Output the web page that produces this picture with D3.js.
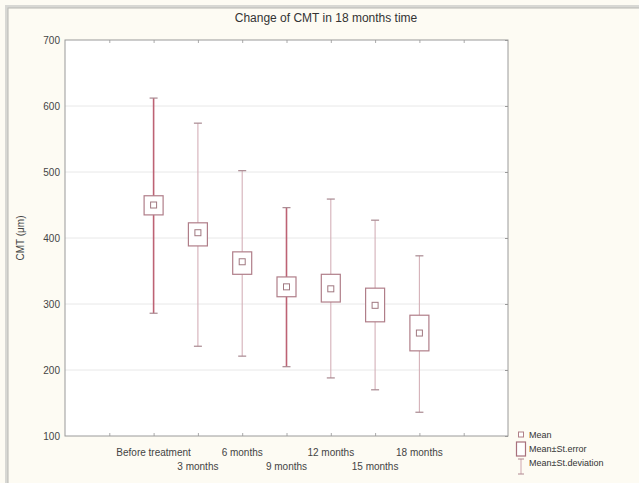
<!DOCTYPE html>
<html>
<head>
<meta charset="utf-8">
<script src="https://cdn.jsdelivr.net/npm/d3@7"></script>
<style>
  body { margin: 0; background: #fdfbf3; }
  svg { display: block; font-family: "Liberation Sans", Arial, sans-serif; }
</style>
</head>
<body>
<svg id="chart" width="639" height="483"></svg>
<script>
const categories = ['Before treatment', '3 months', '6 months', '9 months', '12 months', '15 months', '18 months'];
const means   = [450, 408, 364, 326, 323, 298, 256];
const seLow   = [435, 388, 345, 311, 303, 273, 229];
const seHigh  = [464, 423, 379, 341, 345, 324, 283];
const sdLow   = [286, 236, 221, 205, 188, 170, 136];
const sdHigh  = [612, 574, 502, 446, 459, 427, 373];
const yTicks  = [100, 200, 300, 400, 500, 600, 700];
const legendLabels = ['Mean', 'Mean±St.error', 'Mean±St.deviation'];

const svg = d3.select('#chart');
const W = 639, H = 483;
const plotL = 65, plotR = 508, plotT = 40, plotB = 436;

// panel frame with a soft shadow
svg.append('rect').attr('x', 5).attr('y', 5).attr('width', W).attr('height', H)
  .attr('fill', '#d8d8d4');
svg.append('rect').attr('x', 8).attr('y', 8).attr('width', W).attr('height', H)
  .attr('fill', '#fdfbf3').attr('stroke', '#b8b8b4');

const x = d3.scaleLinear().domain([-2, 8]).range([plotL, plotR]);
const y = d3.scaleLinear().domain([100, 700]).range([plotB, plotT]);

// plot area
svg.append('rect').attr('x', plotL).attr('y', plotT)
  .attr('width', plotR - plotL).attr('height', plotB - plotT)
  .attr('fill', '#fff');

// horizontal grid
svg.append('g').selectAll('line').data(yTicks.slice(1, -1)).join('line')
  .attr('x1', plotL).attr('x2', plotR)
  .attr('y1', d => y(d)).attr('y2', d => y(d))
  .attr('stroke', '#e8e8e8');

// y axis labels
const yAxis = svg.append('g').attr('transform', `translate(${plotL},0)`)
  .call(d3.axisLeft(y).tickValues(yTicks).tickSize(0).tickPadding(5));
yAxis.select('.domain').remove();
yAxis.selectAll('text').attr('font-size', 10).attr('fill', '#444').attr('font-family', 'Liberation Sans, Arial');

// right side ticks
svg.append('g').attr('transform', `translate(${plotR},0)`)
  .call(d3.axisLeft(y).tickValues(yTicks).tickSize(3).tickFormat(''))
  .call(g => g.select('.domain').remove())
  .selectAll('line').attr('stroke', '#999');

// top and bottom category ticks
const xTicks = d3.range(-1, 8);
svg.append('g').attr('transform', `translate(0,${plotT})`)
  .call(d3.axisBottom(x).tickValues(xTicks).tickSize(3).tickFormat(''))
  .call(g => g.select('.domain').remove())
  .selectAll('line').attr('stroke', '#aaa');
svg.append('g').attr('transform', `translate(0,${plotB})`)
  .call(d3.axisTop(x).tickValues(xTicks).tickSize(3).tickFormat(''))
  .call(g => g.select('.domain').remove())
  .selectAll('line').attr('stroke', '#aaa');

// plot border
svg.append('rect').attr('x', plotL).attr('y', plotT)
  .attr('width', plotR - plotL).attr('height', plotB - plotT)
  .attr('fill', 'none').attr('stroke', '#9a9a9a');

// category labels (staggered in two rows)
svg.append('g').selectAll('text').data(categories).join('text')
  .attr('x', (d, i) => x(i))
  .attr('y', (d, i) => i % 2 === 0 ? 456 : 470)
  .attr('text-anchor', 'middle')
  .attr('font-size', 10).attr('fill', '#444')
  .text(d => d);

const data = categories.map((c, i) => ({
  i, mean: means[i], seLow: seLow[i], seHigh: seHigh[i], sdLow: sdLow[i], sdHigh: sdHigh[i]
}));
const strong = i => i === 0 || i === 3;
const lineColor = i => strong(i) ? '#bd6274' : '#d4b0b8';

const g = svg.append('g');
// sd whiskers
g.selectAll('.sd').data(data).join('line').attr('class', 'sd')
  .attr('x1', d => x(d.i)).attr('x2', d => x(d.i))
  .attr('y1', d => y(d.sdHigh)).attr('y2', d => y(d.sdLow))
  .attr('stroke', d => lineColor(d.i))
  .attr('stroke-width', d => strong(d.i) ? 1.6 : 1.1);
['sdHigh', 'sdLow'].forEach(k => {
  g.selectAll('.cap-' + k).data(data).join('line').attr('class', 'cap-' + k)
    .attr('x1', d => x(d.i) - 4).attr('x2', d => x(d.i) + 4)
    .attr('y1', d => y(d[k])).attr('y2', d => y(d[k]))
    .attr('stroke', '#a88890').attr('stroke-width', 1.2);
});
// se boxes
g.selectAll('.se').data(data).join('rect').attr('class', 'se')
  .attr('x', d => x(d.i) - 9.5).attr('width', 19)
  .attr('y', d => y(d.seHigh)).attr('height', d => y(d.seLow) - y(d.seHigh))
  .attr('fill', '#fff').attr('stroke', '#b07e89').attr('stroke-width', 1.2);
// mean markers
g.selectAll('.mean').data(data).join('rect').attr('class', 'mean')
  .attr('x', d => x(d.i) - 3).attr('y', d => y(d.mean) - 3)
  .attr('width', 6).attr('height', 6)
  .attr('fill', '#fff').attr('stroke', '#a07880').attr('stroke-width', 1);

// title and y label
svg.append('text').attr('x', 326).attr('y', 22).attr('text-anchor', 'middle')
  .attr('font-size', 12).attr('fill', '#333').text('Change of CMT in 18 months time');
svg.append('text').attr('transform', 'translate(24,238) rotate(-90)')
  .attr('text-anchor', 'middle').attr('font-size', 10).attr('fill', '#444')
  .text('CMT (μm)');

// legend
const lx = 521;
const leg = svg.append('g');
leg.append('rect').attr('x', lx - 2.5).attr('y', 432).attr('width', 5).attr('height', 5)
  .attr('fill', '#fff').attr('stroke', '#b08088');
leg.append('rect').attr('x', lx - 4.5).attr('y', 442).attr('width', 9).attr('height', 14)
  .attr('fill', '#fff').attr('stroke', '#a8707c').attr('stroke-width', 1.2);
leg.append('line').attr('x1', lx).attr('x2', lx).attr('y1', 459).attr('y2', 474)
  .attr('stroke', '#cfa7b0');
[459, 474].forEach(v => leg.append('line').attr('x1', lx - 3).attr('x2', lx + 3)
  .attr('y1', v).attr('y2', v).attr('stroke', '#b08890'));
leg.selectAll('text').data(legendLabels).join('text')
  .attr('x', lx + 8).attr('y', (d, i) => 438 + i * 14)
  .attr('font-size', 9).attr('fill', '#333').text(d => d);
</script>
</body>
</html>
